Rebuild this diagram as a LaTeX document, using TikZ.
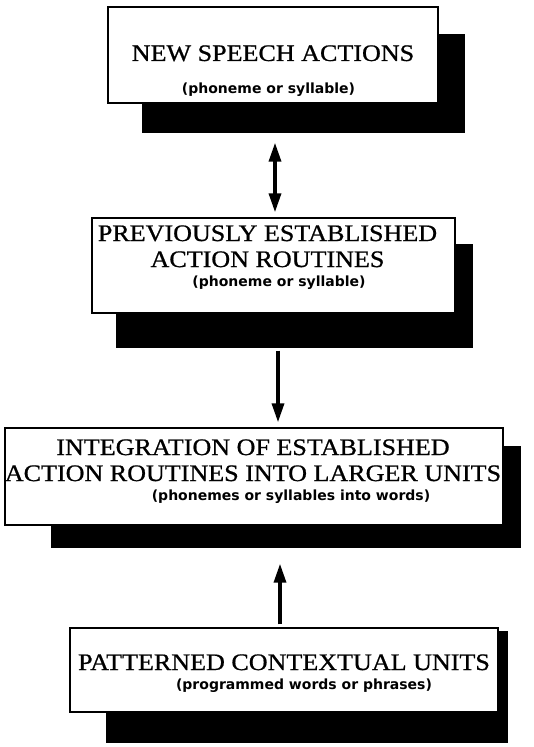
\documentclass[tikz,border=0pt]{standalone}
\usepackage{fontspec}
\setmainfont[FakeStretch=1.1,FakeBold=0.8]{Liberation Serif}
\newfontfamily\subfont{DejaVu Sans}
\usetikzlibrary{calc,backgrounds,positioning,arrows.meta}

\tikzset{
  box/.style={draw,line width=1.4pt,fill=white,inner sep=0pt},
  title/.style={inner sep=0pt,align=center,font=\fontsize{23.7}{26}\selectfont},
  sub/.style={inner sep=0pt,font=\subfont\bfseries\fontsize{14}{16}\selectfont},
  arr/.style={line width=3.4pt,-{Triangle[length=19pt,width=12pt]}},
  shade/.style={fill=black}
}

\begin{document}
\begin{tikzpicture}[x=1pt,y=-1pt]
\useasboundingbox (0,0) rectangle (534,747);

% the four boxes
\node[box,minimum width=330pt,minimum height=96pt] (b1) at (273,55) {};
\node[box,minimum width=363pt,minimum height=95pt] (b2) at (273.5,265.5) {};
\node[box,minimum width=498pt,minimum height=97pt] (b3) at (254,476.5) {};
\node[box,minimum width=428pt,minimum height=84pt] (b4) at (284,670) {};

% texts
\node[title] (t1) at ($(b1.north)+(0,47)$) {NEW SPEECH ACTIONS};
\node[sub] (s1) at ($(b1.north)+(-4.5,83)$) {(phoneme or syllable)};
\node[title] (t2) at ($(b2.north)+(-6,29)$) {PREVIOUSLY ESTABLISHED\\ACTION ROUTINES};
\node[sub] (s2) at ($(b2.north)+(5.5,65)$) {(phoneme or syllable)};
\node[title] (t3) at ($(b3.north)+(-1,33)$) {INTEGRATION OF ESTABLISHED\\ACTION ROUTINES INTO LARGER UNITS};
\node[sub] (s3) at ($(b3.north)+(37,69)$) {(phonemes or syllables into words)};
\node[title] (t4) at ($(b4.north)+(0,35)$) {PATTERNED CONTEXTUAL UNITS};
\node[sub] (s4) at ($(b4.north)+(20,58)$) {(programmed words or phrases)};

% shadows
\begin{scope}[on background layer]
\fill[shade] ($(b1.north east)+(26,28)$) rectangle ($(b1.south west)+(35,29)$);
\fill[shade] ($(b2.north east)+(17,27)$) rectangle ($(b2.south west)+(25,34)$);
\fill[shade] ($(b3.north east)+(17,19)$) rectangle ($(b3.south west)+(47,22)$);
\fill[shade] ($(b4.north east)+(9,4)$) rectangle ($(b4.south west)+(37,30)$);
\end{scope}

% arrows
\draw[arr,{Triangle[length=19pt,width=12pt]}-{Triangle[length=19pt,width=12pt]},shorten <=39pt,shorten >=5pt]
  ([xshift=2pt]b1.south) -- ([xshift=2pt]b1.south |- b2.north);
\draw[arr,shorten <=37pt,shorten >=5pt]
  ([xshift=4.5pt]b2.south) -- ([xshift=4.5pt]b2.south |- b3.north);
\draw[arr,shorten <=3pt,shorten >=38pt]
  ([xshift=-4pt]b4.north) -- ([xshift=-4pt]b4.north |- b3.south);
\end{tikzpicture}
\end{document}
